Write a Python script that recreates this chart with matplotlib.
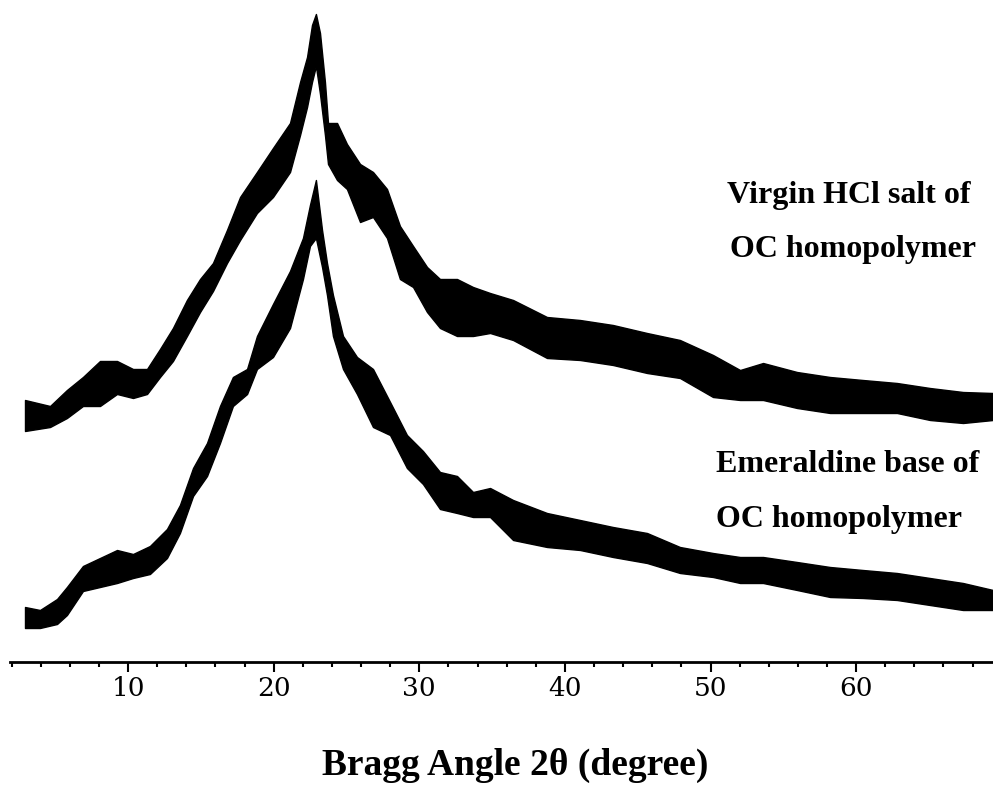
import matplotlib
matplotlib.use("Agg")
import matplotlib.pyplot as plt
from matplotlib.ticker import MultipleLocator

# XRD patterns: band top / band bottom (a.u.)
# virgin HCl salt of OC homopolymer
salt_angle = [2.92, 4.64, 5.80, 6.90, 8.07, 9.24, 10.34, 11.30, 12.19, 13.08,
              14.04, 14.94, 15.83, 16.79, 17.69, 18.85, 19.95, 21.12, 21.81, 22.29,
              22.63, 22.90, 23.18, 23.52, 23.73, 24.35, 25.03, 25.93, 26.82, 27.78,
              28.67, 29.57, 30.53, 31.42, 32.59, 33.69, 34.86, 36.44, 38.77, 41.04,
              43.30, 45.64, 47.90, 50.17, 52.03, 53.61, 55.94, 58.21, 60.47, 62.81,
              65.07, 67.34, 69.40]
salt_hi = [262, 256, 272, 285, 301, 301, 293, 293, 313, 334,
           362, 383, 399, 432, 465, 490, 514, 539, 580, 605,
           637, 648, 629, 580, 539, 539, 518, 498, 490, 473,
           436, 416, 395, 383, 383, 375, 369, 362, 345, 342,
           337, 329, 322, 307, 292, 299, 290, 285, 282, 279,
           274, 270, 269]
salt_lo = [231, 235, 244, 256, 256, 268, 264, 268, 285, 301,
           326, 350, 371, 399, 422, 449, 465, 490, 527, 555,
           580, 596, 568, 527, 498, 482, 473, 440, 445, 424,
           383, 375, 350, 334, 326, 326, 329, 322, 304, 302,
           297, 289, 284, 265, 262, 262, 254, 249, 249, 249,
           242, 239, 242]

# emeraldine base of OC homopolymer
base_angle = [2.92, 3.95, 5.12, 5.80, 6.90, 8.07, 9.24, 10.34, 11.50, 12.67,
              13.56, 14.46, 15.42, 16.31, 17.20, 18.17, 18.85, 19.95, 21.12, 22.01,
              22.49, 22.90, 23.32, 23.66, 24.07, 24.76, 25.72, 26.82, 27.99, 29.15,
              30.25, 31.42, 32.59, 33.69, 34.86, 36.44, 38.77, 41.04, 43.30, 45.64,
              47.90, 50.17, 52.03, 53.61, 55.94, 58.21, 60.47, 62.81, 65.07, 67.34,
              69.40]
base_hi = [55, 52, 63, 75, 96, 104, 112, 108, 116, 133,
           157, 194, 219, 256, 285, 293, 326, 358, 391, 424,
           457, 482, 432, 399, 367, 326, 305, 293, 260, 227,
           211, 190, 186, 170, 174, 162, 149, 142, 135, 129,
           115, 109, 105, 105, 100, 95, 92, 89, 84, 79,
           72]
base_lo = [34, 34, 38, 47, 71, 75, 79, 84, 88, 104,
           129, 166, 186, 219, 256, 268, 293, 305, 334, 383,
           416, 424, 395, 367, 326, 293, 268, 235, 227, 194,
           178, 153, 149, 145, 145, 122, 115, 112, 105, 99,
           89, 85, 79, 79, 72, 65, 64, 62, 57, 52,
           52]

tick_values = [10, 20, 30, 40, 50, 60]

fig = plt.figure(figsize=(9.93, 7.92), dpi=100)
ax = fig.add_axes([10 / 993, 1 - 662 / 792, 1 - 10 / 993, 662 / 792])

# each pattern drawn as a dark noisy band
ax.fill_between(salt_angle, salt_lo, salt_hi, color="black", linewidth=1)
ax.fill_between(base_angle, base_lo, base_hi, color="black", linewidth=1)

ax.set_xlim(1.89, 69.4)
ax.set_ylim(0, 662)

for side in ["top", "left", "right"]:
    ax.spines[side].set_visible(False)
ax.spines["bottom"].set_linewidth(2)
ax.set_yticks([])
ax.set_xticks(tick_values)
ax.set_xticklabels([str(v) for v in tick_values], family="DejaVu Serif", fontsize=19)
ax.xaxis.set_minor_locator(MultipleLocator(2))
ax.tick_params(axis="x", which="major", direction="out", length=7, width=1.5, pad=3)
ax.tick_params(axis="x", which="minor", direction="out", length=3.5, width=1.5)

# labels
bold_serif = dict(family="Liberation Serif", weight="bold", fontsize=23, va="center", ha="left")
fig.text(727 / 993, 1 - 195 / 792, "Virgin HCl salt of", **bold_serif)
fig.text(730 / 993, 1 - 250 / 792, "OC homopolymer", **bold_serif)
fig.text(716 / 993, 1 - 465 / 792, "Emeraldine base of", **bold_serif)
fig.text(716 / 993, 1 - 520 / 792, "OC homopolymer", **bold_serif)

fig.text(515 / 993, 1 - 765 / 792, "Bragg Angle 2\u03b8 (degree)", family="Liberation Serif",
         weight="bold", fontsize=27, ha="center", va="center")

fig.savefig("out.png", dpi=100)
